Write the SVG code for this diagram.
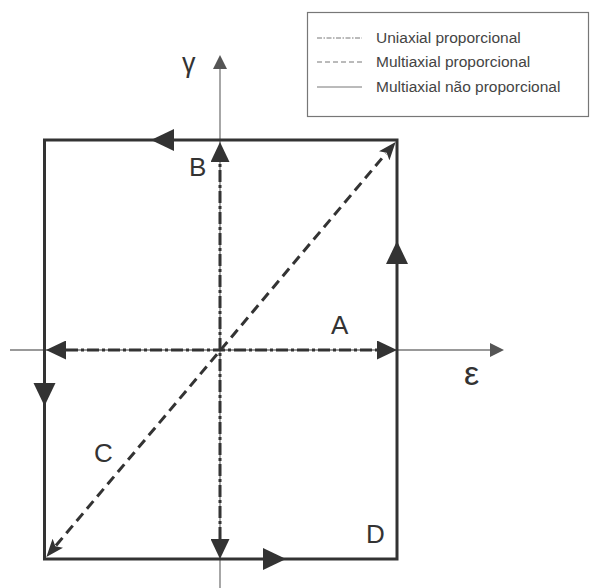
<svg xmlns="http://www.w3.org/2000/svg" width="590" height="588" viewBox="0 0 590 588">
  <style>
    .frame { fill: none; stroke: #333; stroke-width: 3; }
    .axis { fill: none; stroke: #777; stroke-width: 1.3; }
    .uni { fill: none; stroke: #333; stroke-width: 3; stroke-dasharray: 12 3 3 3; }
    .multi { fill: none; stroke: #333; stroke-width: 3; stroke-dasharray: 10 6; }
    .head { fill: #333; }
    .lbl { font-family: "Liberation Sans", Arial, sans-serif; font-size: 26px; fill: #333; }
    .sym { font-family: "Liberation Sans", Arial, sans-serif; fill: #333; }
    .leg { font-family: "Liberation Sans", Arial, sans-serif; font-size: 15.5px; fill: #444; }
    .legline { fill: none; stroke: #777; stroke-width: 1; }
  </style>
  <defs>
    <marker id="big" viewBox="0 -9.5 20 19" refX="0" refY="0" markerWidth="20" markerHeight="19" markerUnits="userSpaceOnUse" orient="auto-start-reverse">
      <path d="M0,-9.5 L20,0 L0,9.5 z" fill="#333"/>
    </marker>
    <marker id="notch" viewBox="0 -7 18 14" refX="3" refY="0" markerWidth="18" markerHeight="14" markerUnits="userSpaceOnUse" orient="auto-start-reverse">
      <path d="M0,-7 L18,0 L0,7 L4,0 z" fill="#333"/>
    </marker>
    <marker id="ax" viewBox="0 -7 14 14" refX="0" refY="0" markerWidth="14" markerHeight="14" markerUnits="userSpaceOnUse" orient="auto">
      <path d="M0,-7 L14,0 L0,7 z" fill="#555"/>
    </marker>
  </defs>

  <g id="connectors">
    <line id="axis-eps" class="axis" x1="10" y1="350" x2="490" y2="350" marker-end="url(#ax)"/>
    <line id="axis-gamma" class="axis" x1="220" y1="588" x2="220" y2="69" marker-end="url(#ax)"/>
    <rect id="path-D" class="frame" x="44.5" y="140" width="352.5" height="419"/>
    <polygon class="head" points="151,140 174,129 174,151"/>
    <polygon class="head" points="397,241 386,264 408,264"/>
    <polygon class="head" points="44.5,406 33.5,383 55.5,383"/>
    <polygon class="head" points="286,559 263,548 263,570"/>
    <line id="path-A" class="uni" x1="66" y1="350" x2="377" y2="350" marker-start="url(#big)" marker-end="url(#big)"/>
    <line id="path-B" class="uni" x1="220" y1="539" x2="220" y2="162" marker-start="url(#big)" marker-end="url(#big)"/>
    <line id="path-C" class="multi" x1="56" y1="545.5" x2="386" y2="153.5" marker-start="url(#notch)" marker-end="url(#notch)"/>
  </g>

  <g id="labels">
    <text class="sym" x="182" y="72" style="font-size:27px">γ</text>
    <text class="lbl" x="189" y="176">B</text>
    <text class="lbl" x="331" y="334">A</text>
    <text class="sym" x="464" y="385" style="font-size:34px">ε</text>
    <text class="lbl" x="94" y="462">C</text>
    <text class="lbl" x="366" y="543">D</text>
  </g>

  <g id="legend">
    <rect x="307.5" y="12.5" width="281" height="104" fill="#fff" stroke="#777" stroke-width="1.2"/>
    <line class="legline" x1="317" y1="38" x2="362" y2="38" stroke-dasharray="5 1.5 1.5 1.5"/>
    <text class="leg" x="376" y="43">Uniaxial proporcional</text>
    <line class="legline" x1="317" y1="62" x2="362" y2="62" stroke="#444" stroke-width="1.3" stroke-dasharray="5 3"/>
    <text class="leg" x="376" y="67">Multiaxial proporcional</text>
    <line class="legline" x1="317" y1="87" x2="362" y2="87"/>
    <text class="leg" x="376" y="92">Multiaxial não proporcional</text>
  </g>
</svg>
